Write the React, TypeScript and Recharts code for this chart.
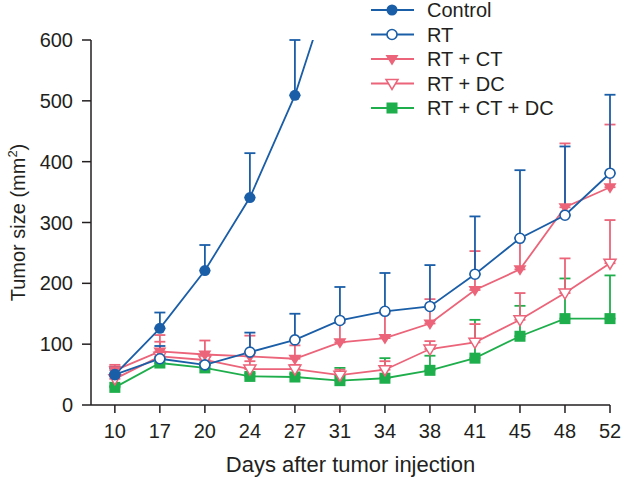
import React from 'react';
import { LineChart, Line, XAxis, YAxis, ErrorBar, Legend } from 'recharts';

const days = [10, 17, 20, 24, 27, 31, 34, 38, 41, 45, 48, 52];

const control = [50, 126, 221, 341, 509, 737, null, null, null, null, null, null];
const controlErr = [12, 26, 42, 73, 91, 0, 0, 0, 0, 0, 0, 0];

const rt = [50, 76, 66, 87, 107, 139, 154, 162, 215, 274, 312, 381];
const rtErr = [10, 21, 4, 32, 43, 55, 63, 68, 95, 112, 113, 129];

const rtCt = [57, 88, 83, 80, 76, 103, 110, 134, 189, 223, 325, 358];
const rtCtErr = [9, 27, 23, 34, 22, 32, 40, 40, 64, 52, 105, 103];

const rtDc = [43, 80, 74, 59, 59, 49, 58, 92, 103, 140, 184, 233];
const rtDcErr = [20, 24, 6, 13, 7, 9, 14, 13, 30, 44, 57, 71];

const rtCtDc = [29, 69, 61, 47, 46, 40, 44, 57, 77, 113, 142, 142];
const rtCtDcErr = [2, 9, 5, 5, 5, 21, 33, 24, 63, 50, 66, 71];

const yTicks = [0, 100, 200, 300, 400, 500, 600];

const BLUE = '#1b5ea8';
const PINK = '#eb6479';
const GREEN = '#1fae4c';
const INK = '#231f20';
const FONT = '"Liberation Sans", Arial, sans-serif';

const data = days.map((d, i) => ({
  idx: i,
  day: d,
  control: control[i],
  controlErr: [0, controlErr[i]],
  rt: rt[i],
  rtErr: [0, rtErr[i]],
  rtCt: rtCt[i],
  rtCtErr: [0, rtCtErr[i]],
  rtDc: rtDc[i],
  rtDcErr: [0, rtDcErr[i]],
  rtCtDc: rtCtDc[i],
  rtCtDcErr: [0, rtCtDcErr[i]],
}));

type Kind = 'circle' | 'openCircle' | 'tri' | 'openTri' | 'square';

const Marker = ({ kind, color, cx, cy }: { kind: Kind; color: string; cx: number; cy: number }) => {
  switch (kind) {
    case 'circle':
      return <circle cx={cx} cy={cy} r={5.5} fill={color} stroke="none" />;
    case 'openCircle':
      return <circle cx={cx} cy={cy} r={5} fill="#fff" stroke={color} strokeWidth={1.6} />;
    case 'tri':
      return <polygon points={`${cx - 6.5},${cy - 4} ${cx + 6.5},${cy - 4} ${cx},${cy + 6.5}`} fill={color} />;
    case 'openTri':
      return (
        <polygon
          points={`${cx - 6},${cy - 4} ${cx + 6},${cy - 4} ${cx},${cy + 6}`}
          fill="#fff"
          stroke={color}
          strokeWidth={1.5}
        />
      );
    default:
      return <rect x={cx - 5.5} y={cy - 5.5} width={11} height={11} fill={color} />;
  }
};

const makeDot = (kind: Kind, color: string) => (props: any) => {
  const { cx, cy, index } = props;
  if (cx == null || cy == null || props.value == null) return <g key={`${kind}-${index}`} />;
  return (
    <g key={`${kind}-${index}`}>
      <Marker kind={kind} color={color} cx={cx} cy={cy} />
    </g>
  );
};

const legendItems: { name: string; kind: Kind; color: string }[] = [
  { name: 'Control', kind: 'circle', color: BLUE },
  { name: 'RT', kind: 'openCircle', color: BLUE },
  { name: 'RT + CT', kind: 'tri', color: PINK },
  { name: 'RT + DC', kind: 'openTri', color: PINK },
  { name: 'RT + CT + DC', kind: 'square', color: GREEN },
];

const LegendBox = () => (
  <svg width={262} height={120}>
    {legendItems.map((it, i) => {
      const y = 10 + i * 24.5;
      return (
        <g key={it.name}>
          <line x1={1} x2={44} y1={y} y2={y} stroke={it.color} strokeWidth={1.8} />
          <Marker kind={it.kind} color={it.color} cx={22} cy={y} />
          <text x={57} y={y + 7.2} fontSize={20} fontFamily={FONT} fill={INK}>
            {it.name}
          </text>
        </g>
      );
    })}
  </svg>
);

const YTitle = (props: any) => {
  const { viewBox } = props;
  const x = viewBox.x + 25;
  const y = viewBox.y + viewBox.height / 2;
  return (
    <text
      x={x}
      y={y}
      transform={`rotate(-90, ${x}, ${y})`}
      textAnchor="middle"
      fontSize={20}
      fontFamily={FONT}
      fill={INK}
    >
      Tumor size (mm
      <tspan dy={-8} fontSize={13}>2</tspan>
      <tspan dy={8}>)</tspan>
    </text>
  );
};

const XTitle = (props: any) => {
  const { viewBox } = props;
  return (
    <text
      x={viewBox.x + viewBox.width / 2}
      y={viewBox.y + viewBox.height - 5}
      textAnchor="middle"
      fontSize={22}
      fontFamily={FONT}
      fill={INK}
    >
      Days after tumor injection
    </text>
  );
};

const series: { key: string; kind: Kind; color: string; name: string }[] = [
  { key: 'rtCtDc', kind: 'square', color: GREEN, name: 'RT + CT + DC' },
  { key: 'rtDc', kind: 'openTri', color: PINK, name: 'RT + DC' },
  { key: 'rtCt', kind: 'tri', color: PINK, name: 'RT + CT' },
  { key: 'rt', kind: 'openCircle', color: BLUE, name: 'RT' },
  { key: 'control', kind: 'circle', color: BLUE, name: 'Control' },
];

export default function App() {
  return (
    <div style={{ position: 'absolute', left: 0, top: 0, background: '#fff' }}>
      <LineChart width={622} height={477} data={data} margin={{ top: 40, right: 12, bottom: 0, left: 0 }}>
        <XAxis
          type="number"
          dataKey="idx"
          domain={[-0.53, 11]}
          ticks={days.map((_, i) => i)}
          tickFormatter={(v: number) => String(days[v])}
          interval={0}
          height={72}
          tickSize={8}
          tickMargin={11}
          axisLine={{ stroke: INK, strokeWidth: 1.5 }}
          tickLine={{ stroke: INK, strokeWidth: 1.5 }}
          tick={{ fill: INK, fontSize: 20, fontFamily: FONT }}
          label={<XTitle />}
        />
        <YAxis
          type="number"
          domain={[0, 600]}
          ticks={yTicks}
          allowDataOverflow
          width={91}
          tickSize={9}
          tickMargin={9}
          axisLine={{ stroke: INK, strokeWidth: 1.5 }}
          tickLine={{ stroke: INK, strokeWidth: 1.5 }}
          tick={{ fill: INK, fontSize: 20, fontFamily: FONT }}
          label={<YTitle />}
        />
        <Legend
          layout="vertical"
          align="center"
          verticalAlign="middle"
          content={<LegendBox />}
          wrapperStyle={{ left: 370, top: 0, width: 262, height: 120 }}
        />
        {series.map((s) => (
          <Line
            key={s.key}
            dataKey={s.key}
            name={s.name}
            stroke={s.color}
            strokeWidth={1.8}
            dot={makeDot(s.kind, s.color)}
            activeDot={false}
            isAnimationActive={false}
            connectNulls={false}
          >
            <ErrorBar
              dataKey={`${s.key}Err`}
              direction="y"
              width={5.5}
              stroke={s.color}
              strokeWidth={1.8}
              isAnimationActive={false}
            />
          </Line>
        ))}
      </LineChart>
    </div>
  );
}
